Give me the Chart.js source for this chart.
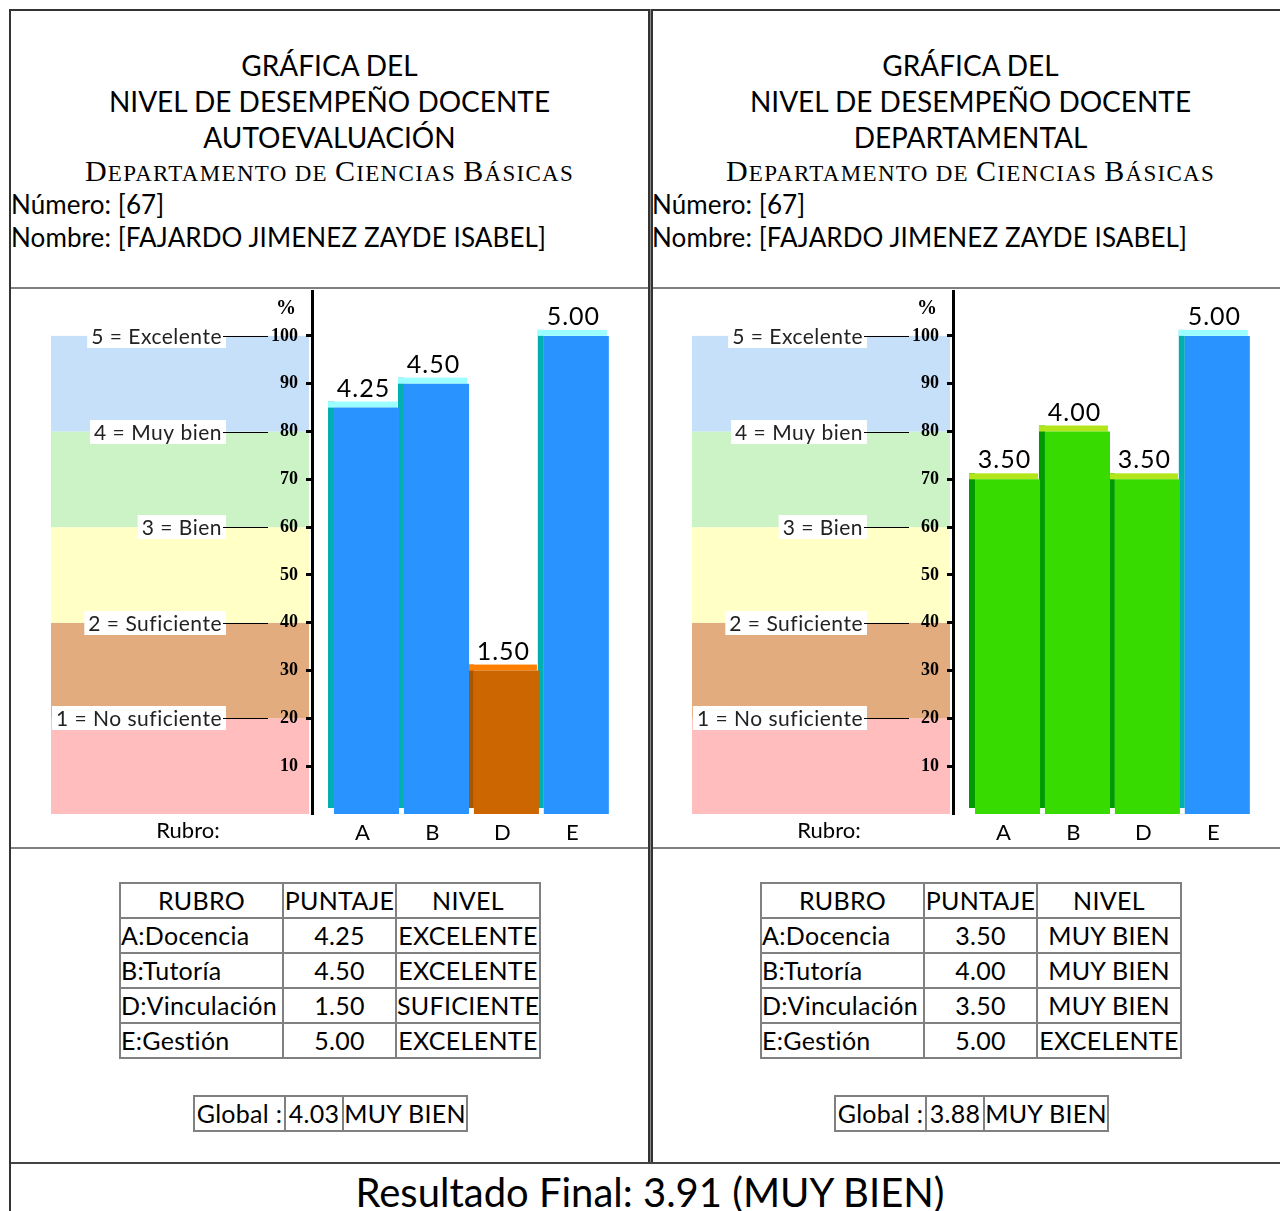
<!DOCTYPE html>
<html lang="es">
<head>
<meta charset="utf-8">
<title>Gráfica del nivel de desempeño docente</title>
<script src="https://cdn.jsdelivr.net/npm/chart.js@4.4.1/dist/chart.umd.min.js"></script>
<style>
body { margin: 0; width: 1280px; height: 1211px; overflow: hidden; position: relative; background: #fff; font-family: Lato, sans-serif; color: #000; }
.linea { position: absolute; }
.titulo { position: absolute; top: 47px; width: 637px; text-align: center; font-size: 28px; line-height: 36px; }
.depto { position: absolute; top: 154px; width: 637px; text-align: center; font-family: "Liberation Serif", serif; font-size: 23px; line-height: 34px; letter-spacing: 1.3px; white-space: nowrap; }
.depto b { font-weight: normal; font-size: 30px; }
.info { position: absolute; top: 188px; font-size: 26px; line-height: 33px; white-space: nowrap; letter-spacing: 0.1px; }
canvas { position: absolute; top: 290px; }
table { position: absolute; border-collapse: collapse; table-layout: fixed; border: 2px solid #333; font-size: 25px; letter-spacing: 0.3px; }
td { border: 2px solid #808080; padding: 0; height: 33px; line-height: 33px; text-align: center; white-space: nowrap; overflow: visible; }
td.izq { text-align: left; }
.final { position: absolute; left: 11px; top: 1169px; width: 1278px; text-align: center; font-size: 40px; line-height: 46px; }
</style>
</head>
<body>

<!-- marco de la tabla exterior -->
<div class="linea" style="left:9px;top:9px;width:1280px;height:2px;background:#333"></div>
<div class="linea" style="left:9px;top:9px;width:2px;height:1210px;background:#333"></div>
<div class="linea" style="left:648px;top:9px;width:1px;height:1155px;background:#888;border-left:2px solid #333;border-right:2px solid #333"></div>
<div class="linea" style="left:11px;top:287px;width:637px;height:2px;background:#808080"></div>
<div class="linea" style="left:653px;top:287px;width:640px;height:2px;background:#808080"></div>
<div class="linea" style="left:11px;top:847px;width:637px;height:2px;background:#808080"></div>
<div class="linea" style="left:653px;top:847px;width:640px;height:2px;background:#808080"></div>
<div class="linea" style="left:11px;top:1162px;width:1280px;height:2px;background:#444"></div>

<div id="paneles"></div>
<div class="final" id="final"></div>

<script>
var categorias = ['A', 'B', 'D', 'E'];
var rubros = ['A:Docencia', 'B:Tutoría', 'D:Vinculación', 'E:Gestión'];

var puntajesAuto = [4.25, 4.50, 1.50, 5.00];
var nivelesAuto = ['EXCELENTE', 'EXCELENTE', 'SUFICIENTE', 'EXCELENTE'];
var globalAuto = 4.03;
var nivelGlobalAuto = 'MUY BIEN';

var puntajesDepto = [3.50, 4.00, 3.50, 5.00];
var nivelesDepto = ['MUY BIEN', 'MUY BIEN', 'MUY BIEN', 'EXCELENTE'];
var globalDepto = 3.88;
var nivelGlobalDepto = 'MUY BIEN';

var resultadoFinal = 3.91;
var nivelFinal = 'MUY BIEN';

var escalaNiveles = ['1 = No suficiente', '2 = Suficiente', '3 = Bien', '4 = Muy bien', '5 = Excelente'];
var ticksPorcentaje = [10, 20, 30, 40, 50, 60, 70, 80, 90, 100];

// colores de las franjas, de abajo hacia arriba
var coloresBanda = ['#ffbdbd', '#e2ac7e', '#ffffc6', '#ccf3c5', '#c6e0fa'];
var coloresNivel = {
    'EXCELENTE': { frente: '#2994ff', lado: '#00afaf', tapa: '#9cffff' },
    'MUY BIEN': { frente: '#37db00', lado: '#009900', tapa: '#b2e61a' },
    'SUFICIENTE': { frente: '#cc6600', lado: '#aa5500', tapa: '#ff8000' }
};

/*************** fondo con los niveles ***************/
var fondoNiveles = {
    id: 'fondoNiveles',
    beforeDraw: function (chart) {
        var c = chart.ctx, y = chart.scales.y, a = chart.chartArea;
        var izq = a.left - 261, der = a.left - 3;
        c.save();
        coloresBanda.forEach(function (color, i) {
            var arriba = y.getPixelForValue(i + 1), abajo = y.getPixelForValue(i);
            c.fillStyle = color;
            c.fillRect(izq, arriba, der - izq, abajo - arriba);
        });
        c.font = '21px Lato';
        c.letterSpacing = '0.5px';
        c.textAlign = 'right';
        c.textBaseline = 'middle';
        escalaNiveles.forEach(function (txt, i) {
            var py = Math.round(y.getPixelForValue(i + 1));
            var w = c.measureText(txt).width;
            c.fillStyle = '#fff';
            c.fillRect(a.left - 94 - w, py - 12, w + 8, 24);
            c.fillStyle = '#222';
            c.fillText(txt, a.left - 90, py + 1);
            c.strokeStyle = '#000';
            c.lineWidth = 1;
            c.beginPath();
            c.moveTo(a.left - 89, py + 0.5);
            c.lineTo(a.left - 44, py + 0.5);
            c.stroke();
        });
        c.letterSpacing = '0px';
        c.font = 'bold 20px "Liberation Serif"';
        c.textAlign = 'center';
        c.fillStyle = '#000';
        c.fillText('%', a.left - 26, y.getPixelForValue(5) - 27);
        c.restore();
    },
    afterDraw: function (chart) {
        var c = chart.ctx, a = chart.chartArea;
        c.save();
        c.font = '22px Lato';
        c.textAlign = 'center';
        c.textBaseline = 'top';
        c.fillStyle = '#000';
        c.fillText('Rubro:', a.left - 124, a.bottom + 6);
        c.restore();
    }
};

/*************** barras con efecto 3D ***************/
var barras3d = {
    id: 'barras3d',
    beforeDatasetsDraw: function (chart) {
        var c = chart.ctx, meta = chart.getDatasetMeta(0), niveles = chart.config.options.niveles;
        c.save();
        meta.data.forEach(function (el, i) {
            var col = coloresNivel[niveles[i]];
            var izq = el.x - el.width / 2;
            c.fillStyle = col.lado;
            c.fillRect(izq - 6, el.y - 6, 6, el.base - el.y);
            c.fillStyle = col.tapa;
            c.fillRect(izq - 6, el.y - 6, el.width + 4, 6);
        });
        c.restore();
    },
    afterDatasetsDraw: function (chart) {
        var c = chart.ctx, meta = chart.getDatasetMeta(0), datos = chart.data.datasets[0].data;
        c.save();
        c.font = '25px Lato';
        c.letterSpacing = '1px';
        c.textAlign = 'center';
        c.textBaseline = 'alphabetic';
        c.fillStyle = '#000';
        meta.data.forEach(function (el, i) {
            c.fillText(datos[i].y.toFixed(2), el.x - 3, el.y - 11);
        });
        c.restore();
    }
};

function crearGrafica(canvas, puntajes, niveles) {
    return new Chart(canvas.getContext('2d'), {
        type: 'bar',
        data: {
            datasets: [{
                data: puntajes.map(function (v, i) { return { x: i, y: v }; }),
                backgroundColor: niveles.map(function (n) { return coloresNivel[n].frente; }),
                borderWidth: 0,
                barPercentage: 0.93,
                categoryPercentage: 1
            }]
        },
        options: {
            niveles: niveles,
            responsive: false,
            animation: false,
            devicePixelRatio: 1,
            layout: { padding: { top: 0, right: 36, bottom: 0, left: 0 } },
            plugins: { legend: { display: false }, tooltip: { enabled: false } },
            scales: {
                x: {
                    type: 'linear',
                    offset: false,
                    min: -0.78,
                    max: 3.51,
                    grid: { display: false, drawTicks: false },
                    border: { display: false },
                    afterBuildTicks: function (s) { s.ticks = categorias.map(function (c, i) { return { value: i }; }); },
                    afterFit: function (s) { s.height = 32; s.paddingLeft = 0; s.paddingRight = 0; },
                    ticks: {
                        autoSkip: false,
                        maxRotation: 0,
                        padding: 6,
                        labelOffset: -4,
                        color: '#000',
                        font: { family: 'Lato', size: 22 },
                        callback: function (v) { return categorias[v]; }
                    }
                },
                y: {
                    min: 0,
                    max: 5.48,
                    afterBuildTicks: function (s) { s.ticks = ticksPorcentaje.map(function (p) { return { value: p / 20 }; }); },
                    afterFit: function (s) { s.width = 301; s.paddingTop = 0; s.paddingBottom = 0; },
                    border: { display: true, color: '#000', width: 3 },
                    grid: { drawOnChartArea: false, drawTicks: true, tickLength: 6, tickWidth: 3, tickColor: '#000' },
                    ticks: {
                        autoSkip: false,
                        padding: 8,
                        color: '#000',
                        font: { family: 'Liberation Serif', weight: 'bold', size: 18 },
                        callback: function (v) { return Math.round(v * 20); }
                    }
                }
            }
        },
        plugins: [fondoNiveles, barras3d]
    });
}

// versalitas a mano: mayúscula inicial grande, resto en mayúsculas pequeñas
function versalitas(texto) {
    return texto.split(' ').map(function (p) {
        if (p === 'de') return p.toUpperCase();
        return '<b>' + p.charAt(0) + '</b>' + p.slice(1).toUpperCase();
    }).join(' ');
}

function crearPanel(izq, subtitulo, puntajes, niveles, global, nivelGlobal) {
    var cont = document.getElementById('paneles');

    var t = document.createElement('div');
    t.className = 'titulo';
    t.style.left = izq + 'px';
    t.innerHTML = 'GRÁFICA DEL<br>NIVEL DE DESEMPEÑO DOCENTE<br>' + subtitulo;
    cont.appendChild(t);

    var d = document.createElement('div');
    d.className = 'depto';
    d.style.left = izq + 'px';
    d.innerHTML = versalitas('Departamento de Ciencias Básicas');
    cont.appendChild(d);

    var inf = document.createElement('div');
    inf.className = 'info';
    inf.style.left = izq + 'px';
    inf.innerHTML = 'Número: [67]<br>Nombre: [FAJARDO JIMENEZ ZAYDE ISABEL]';
    cont.appendChild(inf);

    var cv = document.createElement('canvas');
    cv.width = 637;
    cv.height = 556;
    cv.style.left = izq + 'px';
    cont.appendChild(cv);
    crearGrafica(cv, puntajes, niveles);

    var tabla = document.createElement('table');
    tabla.style.left = (izq + 108) + 'px';
    tabla.style.top = '882px';
    tabla.style.width = '420px';
    var html = '<colgroup><col style="width:163px"><col style="width:113px"><col style="width:144px"></colgroup>';
    html += '<tr><td>RUBRO</td><td>PUNTAJE</td><td>NIVEL</td></tr>';
    rubros.forEach(function (r, i) {
        html += '<tr><td class="izq">' + r + '</td><td>' + puntajes[i].toFixed(2) + '</td><td>' + niveles[i] + '</td></tr>';
    });
    tabla.innerHTML = html;
    cont.appendChild(tabla);

    var g = document.createElement('table');
    g.style.left = (izq + 182) + 'px';
    g.style.top = '1095px';
    g.style.width = '273px';
    g.innerHTML = '<colgroup><col style="width:91px"><col style="width:58px"><col style="width:124px"></colgroup>' +
        '<tr><td>Global :</td><td>' + global.toFixed(2) + '</td><td>' + nivelGlobal + '</td></tr>';
    cont.appendChild(g);
}

crearPanel(11, 'AUTOEVALUACIÓN', puntajesAuto, nivelesAuto, globalAuto, nivelGlobalAuto);
crearPanel(652, 'DEPARTAMENTAL', puntajesDepto, nivelesDepto, globalDepto, nivelGlobalDepto);

document.getElementById('final').textContent = 'Resultado Final: ' + resultadoFinal.toFixed(2) + ' (' + nivelFinal + ')';
</script>
</body>
</html>
